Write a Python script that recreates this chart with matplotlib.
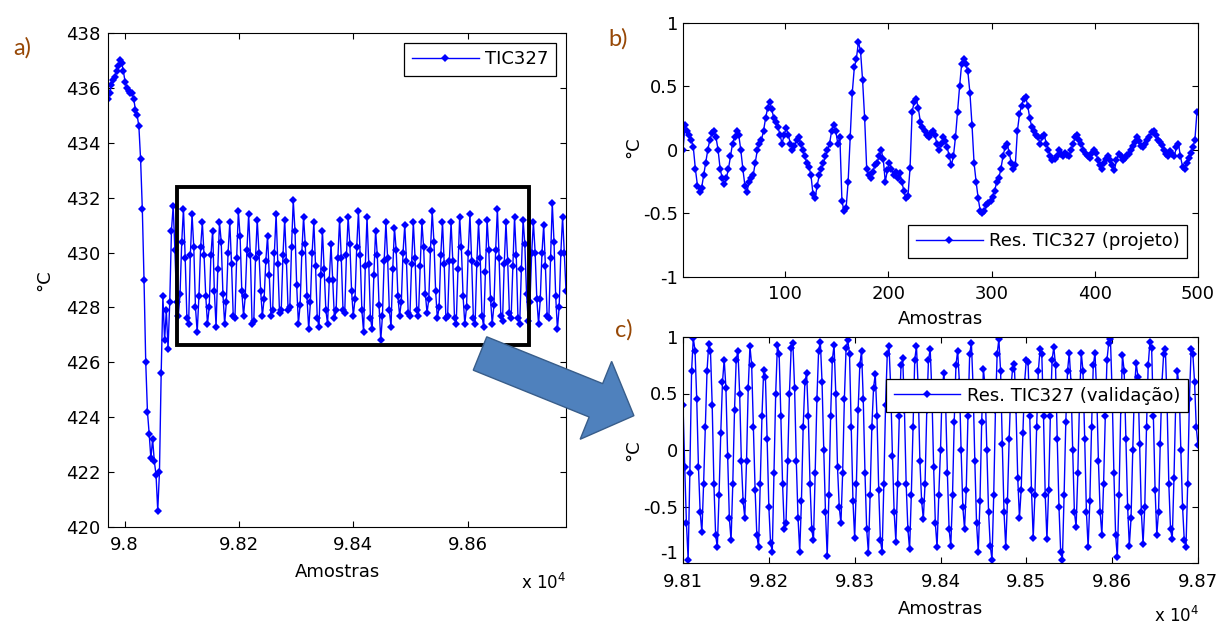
import numpy as np
import matplotlib
matplotlib.use("Agg")
import matplotlib.pyplot as plt
from matplotlib.patches import Rectangle, Polygon

plt.rcParams["font.family"] = ["DejaVu Sans"]
plt.rcParams["axes.unicode_minus"] = False

# ---------------- data ----------------
# a) TIC327 temperature (°C), one value every 3 samples starting at sample 97971
tic327 = [
    435.6, 435.8, 436.1, 436.3, 436.4, 436.6, 436.8, 437.0, 436.9, 436.6,
    436.2, 436.0, 435.9, 435.8, 435.8, 435.6, 435.2, 435.0, 434.6, 433.4,
    431.6, 429.0, 426.0, 424.2, 423.4, 422.5, 423.2, 422.4, 421.9, 420.6,
    422.0, 425.6, 428.4, 426.8, 427.9, 426.5, 428.2, 430.8,
    431.7, 430.1, 428.2, 427.7, 428.5, 430.4, 431.6, 429.8, 427.6, 427.4,
    429.9, 431.4, 430.2, 428.0, 427.1, 428.4, 430.2, 431.1, 429.9, 428.4,
    427.4, 428.0, 429.9, 430.8, 428.6, 427.3, 429.4, 431.1, 430.4, 428.5,
    427.4, 428.2, 430.0, 431.1, 429.6, 427.7, 427.6, 429.8, 431.5, 430.6,
    428.6, 427.7, 428.4, 430.1, 431.4, 429.9, 427.4, 427.5, 429.8, 431.2,
    430.0, 428.6, 427.7, 428.3, 429.7, 430.6, 429.2, 427.7, 427.9, 430.0,
    431.4, 429.6, 427.8, 427.9, 429.9, 431.2, 429.7, 427.9, 428.0, 430.2,
    431.9, 430.8, 428.8, 427.4, 428.1, 430.0, 431.3, 430.3, 428.4, 427.2,
    428.2, 430.0, 431.1, 429.5, 427.6, 427.3, 429.2, 430.8, 429.4, 427.9,
    427.4, 429.0, 430.3, 429.0, 427.6, 427.9, 429.8, 431.2, 429.8, 427.9,
    427.8, 429.9, 431.3, 430.3, 428.6, 427.7, 428.3, 430.2, 431.5, 429.9,
    427.9, 427.1, 429.5, 431.3, 429.6, 427.6, 427.2, 429.2, 430.8, 429.9,
    428.1, 426.8, 427.7, 429.7, 431.1, 429.8, 427.9, 427.3, 429.4, 430.9,
    430.1, 428.4, 427.7, 428.2, 430.0, 431.0, 429.7, 427.8, 427.7, 429.6,
    431.1, 429.8, 427.9, 427.7, 429.5, 431.1, 430.2, 428.5, 427.8, 428.3,
    430.1, 431.5, 430.4, 428.6, 427.6, 428.0, 429.9, 431.1, 429.6, 427.6,
    427.7, 429.7, 431.1, 429.7, 427.6, 427.4, 429.4, 431.3, 430.2, 428.4,
    427.4, 428.0, 430.0, 431.4, 429.7, 427.6, 427.4, 429.6, 431.1, 429.8,
    427.7, 427.3, 429.3, 431.2, 430.1, 428.3, 427.4, 428.1, 430.1, 431.6,
    429.8, 427.7, 427.5, 429.6, 431.1, 429.7, 427.8, 427.6, 429.5, 431.3,
    429.9, 427.6, 427.4, 429.4, 431.2, 430.3, 428.5, 427.5, 428.2, 430.0,
    431.1, 430.0, 428.3, 427.4, 428.3, 430.0, 431.0, 429.5, 427.7, 427.6,
    429.8, 431.8, 430.4, 428.4, 427.2, 428.0, 430.0, 431.3, 430.0, 428.6,
]
tic327_start, tic327_step = 97971, 3

# b) design residual (°C), one value every 2 samples starting at sample 1
res_design = [
    0.00, 0.20, 0.15, 0.12, 0.08, 0.02, -0.15, -0.28, -0.33, -0.30,
    -0.20, -0.10, 0.00, 0.08, 0.13, 0.15, 0.10, 0.00, -0.15, -0.22,
    -0.27, -0.22, -0.15, -0.05, 0.05, 0.10, 0.15, 0.12, 0.00, -0.15,
    -0.28, -0.33, -0.25, -0.22, -0.20, -0.10, 0.00, 0.05, 0.08, 0.15,
    0.25, 0.33, 0.38, 0.32, 0.25, 0.22, 0.18, 0.12, 0.05, 0.12,
    0.17, 0.12, 0.05, 0.00, 0.03, 0.08, 0.10, 0.05, 0.00, -0.05,
    -0.10, -0.13, -0.20, -0.35, -0.38, -0.28, -0.20, -0.15, -0.10, -0.05,
    0.00, 0.05, 0.15, 0.20, 0.15, 0.05, 0.10, -0.40, -0.48, -0.46,
    -0.25, 0.10, 0.45, 0.65, 0.72, 0.85, 0.78, 0.55, 0.25, -0.15,
    -0.20, -0.22, -0.17, -0.12, -0.10, -0.05, 0.00, -0.07, -0.25, -0.16,
    -0.10, -0.15, -0.20, -0.17, -0.22, -0.18, -0.25, -0.32, -0.38, -0.36,
    -0.14, 0.30, 0.38, 0.40, 0.33, 0.22, 0.18, 0.15, 0.12, 0.10,
    0.13, 0.15, 0.12, 0.05, 0.00, 0.05, 0.10, 0.07, 0.02, -0.05,
    -0.12, -0.05, 0.10, 0.30, 0.50, 0.68, 0.72, 0.68, 0.62, 0.45,
    0.20, -0.10, -0.25, -0.38, -0.48, -0.50, -0.48, -0.43, -0.42, -0.40,
    -0.37, -0.32, -0.25, -0.22, -0.15, -0.05, 0.02, 0.05, -0.02, -0.10,
    -0.15, -0.12, 0.15, 0.28, 0.35, 0.40, 0.42, 0.35, 0.25, 0.18,
    0.15, 0.12, 0.10, 0.05, 0.10, 0.12, 0.05, 0.00, -0.05, -0.08,
    -0.07, -0.05, 0.00, -0.03, -0.05, -0.02, -0.04, -0.05, 0.00, 0.05,
    0.10, 0.12, 0.08, 0.05, 0.00, -0.03, -0.05, -0.06, -0.02, 0.00,
    -0.02, -0.08, -0.12, -0.15, -0.10, -0.07, -0.05, -0.08, -0.12, -0.16,
    -0.08, -0.03, -0.05, -0.08, -0.06, -0.04, -0.03, 0.00, 0.03, 0.06,
    0.10, 0.07, 0.03, 0.02, 0.05, 0.08, 0.10, 0.14, 0.15, 0.12,
    0.08, 0.06, 0.04, 0.00, -0.03, -0.05, -0.01, -0.03, -0.05, 0.02,
    0.05, -0.05, -0.13, -0.15, -0.10, -0.06, -0.02, 0.02, 0.08, 0.30,
]
res_design_start, res_design_step = 1, 2

# c) validation residual (°C), one value every 2 samples starting at sample 98100
res_valid = [
    0.40, -0.15, -0.65, -0.97, -0.20, 0.70, 0.99, 0.88, 0.45, -0.15,
    -0.55, -0.73, -0.30, 0.20, 0.70, 0.94, 0.88, 0.40, -0.30, -0.75,
    -0.86, -0.40, 0.15, 0.60, 0.80, 0.55, -0.05, -0.60, -0.80, -0.30,
    0.35, 0.80, 0.88, 0.50, -0.10, -0.45, -0.60, -0.10, 0.55, 0.92,
    0.75, 0.20, -0.35, -0.75, -0.86, -0.30, 0.30, 0.71, 0.65, 0.10,
    -0.50, -0.82, -0.90, -0.20, 0.50, 0.93, 0.85, 0.30, -0.30, -0.70,
    -0.65, -0.10, 0.50, 0.90, 0.95, 0.55, -0.10, -0.60, -0.90, -0.45,
    0.20, 0.60, 0.68, 0.30, -0.30, -0.70, -0.80, -0.20, 0.45, 0.88,
    0.96, 0.60, 0.00, -0.55, -0.94, -0.40, 0.30, 0.80, 0.93, 0.50,
    -0.15, -0.50, -0.65, -0.20, 0.45, 0.90, 0.97, 0.85, 0.20, -0.45,
    -0.78, -0.30, 0.35, 0.75, 0.88, 0.45, -0.20, -0.70, -0.91, -0.40,
    0.20, 0.55, 0.67, 0.30, -0.35, -0.80, -0.90, -0.30, 0.40, 0.85,
    0.92, 0.55, -0.05, -0.55, -0.81, -0.30, 0.30, 0.75, 0.81, 0.35,
    -0.30, -0.70, -0.88, -0.40, 0.20, 0.80, 0.92, 0.55, -0.10, -0.45,
    -0.61, -0.30, 0.35, 0.80, 0.89, 0.50, -0.15, -0.65, -0.86, -0.40,
    0.00, 0.55, 0.68, 0.40, -0.20, -0.70, -0.85, -0.40, 0.25, 0.75,
    0.88, 0.60, 0.00, -0.50, -0.70, -0.35, 0.30, 0.85, 0.95, 0.55,
    -0.10, -0.65, -0.90, -0.45, 0.25, 0.72, 0.55, 0.00, -0.55, -0.85,
    -0.97, -0.40, 0.35, 0.85, 0.98, 0.70, 0.05, -0.55, -0.86, -0.45,
    0.10, 0.55, 0.72, 0.76, 0.35, -0.25, -0.60, -0.35, 0.15, 0.60,
    0.80, 0.78, 0.30, -0.35, -0.78, -0.40, 0.20, 0.70, 0.89, 0.85,
    0.30, -0.40, -0.79, -0.35, 0.30, 0.80, 0.91, 0.75, 0.10, -0.50,
    -0.90, -0.97, -0.40, 0.25, 0.70, 0.86, 0.60, 0.00, -0.55, -0.68,
    -0.20, 0.45, 0.86, 0.70, 0.10, -0.55, -0.86, -0.45, 0.20, 0.75,
    0.86, 0.50, -0.10, -0.55, -0.75, -0.30, 0.30, 0.80, 0.95, 0.98,
    0.50, -0.20, -0.75, -0.95, -0.40, 0.35, 0.84, 0.70, 0.10, -0.50,
    -0.85, -0.60, 0.00, 0.55, 0.77, 0.65, 0.05, -0.55, -0.83, -0.50,
    0.20, 0.75, 0.96, 0.90, 0.30, -0.35, -0.75, -0.55, 0.05, 0.60,
    0.85, 0.89, 0.40, -0.30, -0.70, -0.79, -0.25, 0.40, 0.70, 0.55,
    0.00, -0.50, -0.80, -0.86, -0.30, 0.45, 0.89, 0.85, 0.60, 0.20,
    0.04,
]
res_valid_start, res_valid_step = 98100, 2

# tick labels
a_xticks = [98000, 98200, 98400, 98600]
a_xticklabels = ["9.8", "9.82", "9.84", "9.86"]
a_yticks = [420, 422, 424, 426, 428, 430, 432, 434, 436, 438]
b_xticks = [100, 200, 300, 400, 500]
c_xticks = [98100, 98200, 98300, 98400, 98500, 98600, 98700]
c_xticklabels = ["9.81", "9.82", "9.83", "9.84", "9.85", "9.86", "9.87"]
res_yticks = [-1, -0.5, 0, 0.5, 1]
res_yticklabels = ["-1", "-0.5", "0", "0.5", "1"]

# ---------------- figure ----------------
W, H = 1219, 626
fig = plt.figure(figsize=(W / 100, H / 100), dpi=100)
fig.patch.set_facecolor("white")


def px_box(left, top, right, bottom):
    return [left / W, 1 - bottom / H, (right - left) / W, (bottom - top) / H]


def px(x, y):
    return x / W, 1 - y / H


ax_a = fig.add_axes(px_box(108, 33, 566, 527))
ax_b = fig.add_axes(px_box(683, 23, 1198, 277))
ax_c = fig.add_axes(px_box(683, 337, 1198, 563))

FS = 13
line_kw = dict(color="#0000FF", lw=1.0, marker="D", ms=4.2, mew=0)

xa = tic327_start + tic327_step * np.arange(len(tic327))
xb = res_design_start + res_design_step * np.arange(len(res_design))
xc = res_valid_start + res_valid_step * np.arange(len(res_valid))

ax_a.plot(xa, tic327, label="TIC327", **line_kw)
ax_b.plot(xb, res_design, label="Res. TIC327 (projeto)", **line_kw)
ax_c.plot(xc, res_valid, label="Res. TIC327 (valida\u00e7\u00e3o)", **line_kw)

ax_a.set_xlim(97971, 98772)
ax_a.set_ylim(420, 438)
ax_a.set_xticks(a_xticks)
ax_a.set_xticklabels(a_xticklabels)
ax_a.set_yticks(a_yticks)

ax_b.set_xlim(1, 500)
ax_b.set_ylim(-1, 1)
ax_b.set_xticks(b_xticks)
ax_b.set_yticks(res_yticks)
ax_b.set_yticklabels(res_yticklabels)

ax_c.set_xlim(98100, 98700)
ax_c.set_ylim(-1, 1)
ax_c.set_xticks(c_xticks)
ax_c.set_xticklabels(c_xticklabels)
ax_c.set_yticks(res_yticks)
ax_c.set_yticklabels(res_yticklabels)

for ax, ypad, xpad in ((ax_a, 5.5, 6.5), (ax_b, 3.5, 6.0), (ax_c, 3.5, 7.5)):
    ax.tick_params(direction="in", length=4, width=0.8, top=True, right=True,
                   labelsize=FS, colors="black")
    ax.tick_params(axis="y", pad=ypad)
    ax.tick_params(axis="x", pad=xpad)
    for sp in ax.spines.values():
        sp.set_linewidth(0.8)
        sp.set_color("black")

# the lowest y label of panel c sits a little higher so it clears the x labels
ax_c.get_yticklabels()[0].set_va("bottom")

# legends
leg_kw = dict(frameon=True, fancybox=False, edgecolor="black", framealpha=1,
              handlelength=3.7, handletextpad=0.35, borderpad=0.42,
              borderaxespad=0, fontsize=FS, numpoints=1)
for ax, loc, anchor in ((ax_a, "upper right", (0.978, 0.98)),
                        (ax_b, "lower right", (0.979, 0.075)),
                        (ax_c, "upper right", (0.98, 0.814))):
    leg = ax.legend(loc=loc, bbox_to_anchor=anchor, **leg_kw)
    leg.get_frame().set_linewidth(0.9)

# highlighted window on panel a
ax_a.add_patch(Rectangle((98092, 426.63), 616, 5.75, fill=False,
                         edgecolor="black", lw=2.8, zorder=5))

# axis labels
for (x, y) in ((337, 572), (940, 319), (940, 609)):
    fig.text(*px(x, y), "Amostras", fontsize=FS, ha="center", va="center")
for (x, y) in ((44, 280), (633, 147), (633, 450)):
    fig.text(*px(x, y), "\u00b0C", fontsize=FS, ha="center", va="center",
             rotation=90)
for (x, y) in ((566, 589), (1199, 622)):
    fig.text(*px(x, y), r"x 10$^{4}$", fontsize=FS - 1, ha="right",
             va="baseline")

# panel letters
for (x, y), s in (((22, 48), "a)"), ((618, 39), "b)"), ((624, 330), "c)")):
    fig.text(*px(x, y), s, fontsize=17, ha="center", va="center",
             color="#974806", family=["Lato", "DejaVu Sans"])

# block arrow from panel a towards panel c
ang = np.deg2rad(22)
u = np.array([np.cos(ang), np.sin(ang)])
n = np.array([-np.sin(ang), np.cos(ang)])
c0 = np.array([480.0, 353.5])
pts_px = [c0 - 18 * n, c0 + 125 * u - 18 * n, c0 + 125 * u - 42 * n,
          c0 + 166 * u, c0 + 125 * u + 42 * n, c0 + 125 * u + 18 * n,
          c0 + 18 * n]
pts = [px(p[0], p[1]) for p in pts_px]
fig.patches.append(Polygon(pts, closed=True, transform=fig.transFigure,
                           facecolor="#4F81BD", edgecolor="#385D8A", lw=1.0,
                           zorder=10, figure=fig))

fig.savefig("out.png", dpi=100)
